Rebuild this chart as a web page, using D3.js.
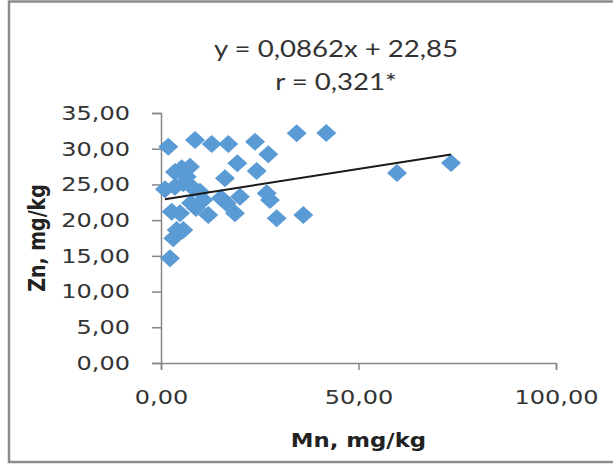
<!DOCTYPE html>
<html>
<head>
<meta charset="utf-8">
<script src="https://cdn.jsdelivr.net/npm/d3@7"></script>
<style>
  html, body { margin: 0; padding: 0; background: #fff; }
  svg { display: block; }
</style>
</head>
<body>
<div id="chart"></div>
<script>
// Mn (x) and Zn (y), mg/kg
const mnValues = [1.85, 8.61, 12.84, 17.04, 23.80, 34.35, 41.85, 27.16, 19.32, 24.23,
    59.75, 73.42, 5.24, 7.34, 6.51, 16.20, 1.01, 3.54, 5.65, 8.18,
    9.87, 20.00, 26.76, 27.59, 16.63, 10.71, 11.97, 18.73, 29.29, 36.03,
    2.71, 4.81, 3.97, 5.65, 3.11, 2.28, 3.54, 7.60, 8.86, 15.19];
const znValues = [30.28, 31.22, 30.66, 30.66, 30.98, 32.16, 32.20, 29.22, 27.96, 26.88,
    26.60, 28.00, 27.26, 27.48, 26.08, 25.86, 24.32, 24.68, 25.16, 24.46,
    23.98, 23.28, 23.76, 22.82, 22.36, 22.82, 20.72, 20.96, 20.26, 20.72,
    21.18, 20.96, 18.62, 18.62, 17.46, 14.66, 26.74, 22.40, 21.70, 23.10];

// trend line y = 0,0862x + 22,85
const slope = 0.0862;
const intercept = 22.85;
const titleLines = ["y = 0,0862x + 22,85", "r = 0,321*"];

const xTicks = [0, 50, 100];
const yTicks = [0, 5, 10, 15, 20, 25, 30, 35];
const xLabel = "Mn, mg/kg";
const yLabel = "Zn, mg/kg";

const W = 613, H = 468;
const SX = 1.2; // the picture is stretched sideways
const fmt = d => d3.format(".2f")(d).replace(".", ",");

const svg = d3.select("#chart").append("svg")
    .attr("width", W)
    .attr("height", H);

// chart frame (right edge runs off the picture)
svg.append("rect")
    .attr("x", 9).attr("y", 1.5)
    .attr("width", W + 10).attr("height", 460.5)
    .attr("fill", "#fff")
    .attr("stroke", "#8c8c8c")
    .attr("stroke-width", 2.5);

const x = d3.scaleLinear().domain([0, 100]).range([161, 556]);
const y = d3.scaleLinear().domain([0, 35]).range([363, 113]);

function stretchText(g) {
    g.selectAll("text").each(function () {
        const t = d3.select(this);
        t.attr("x", (+t.attr("x") || 0) / SX)
            .attr("transform", `scale(${SX},1)`);
    });
}

const axisColor = "#868686";

const yAxis = svg.append("g")
    .attr("transform", `translate(${x(0)},0)`)
    .call(d3.axisLeft(y).tickValues(yTicks).tickFormat(fmt)
        .tickSize(9).tickPadding(22));

const xAxis = svg.append("g")
    .attr("transform", `translate(0,${y(0)})`)
    .call(d3.axisBottom(x).tickValues(xTicks).tickFormat(fmt)
        .tickSize(7).tickPadding(20));

[xAxis, yAxis].forEach(g => {
    g.select(".domain").attr("stroke", axisColor).attr("stroke-width", 1.5);
    g.selectAll(".tick line").attr("stroke", axisColor).attr("stroke-width", 1.5);
    g.selectAll("text")
        .attr("fill", "#333")
        .style("font-family", "'DejaVu Sans', Verdana, sans-serif")
        .style("font-size", "20px");
    stretchText(g);
});

// points
const pts = mnValues.map((d, i) => ({ mn: d, zn: znValues[i] }));
const diamond = d3.symbol().type(d3.symbolSquare).size(165);

svg.append("g")
    .selectAll("path")
    .data(pts)
    .join("path")
    .attr("d", diamond)
    .attr("transform", d => `translate(${x(d.mn)},${y(d.zn)}) scale(1.1,1) rotate(45)`)
    .attr("fill", "#5b9bd5");

// trend line
const xExt = d3.extent(mnValues);
svg.append("line")
    .attr("x1", x(xExt[0])).attr("y1", y(slope * xExt[0] + intercept))
    .attr("x2", x(xExt[1])).attr("y2", y(slope * xExt[1] + intercept))
    .attr("stroke", "#1a1a1a")
    .attr("stroke-width", 2);

// equation text
svg.append("g")
    .attr("transform", `translate(336,0) scale(${SX},1)`)
    .selectAll("text")
    .data(titleLines)
    .join("text")
    .attr("y", (d, i) => 57 + i * 33)
    .attr("text-anchor", "middle")
    .style("font-family", "Lato, 'Open Sans', sans-serif")
    .style("font-size", "23px")
    .attr("fill", "#333")
    .text(d => d);

// axis titles
svg.append("text")
    .attr("transform", `translate(${(x(0) + x(100)) / 2},447) scale(${SX},1)`)
    .attr("text-anchor", "middle")
    .style("font-family", "'DejaVu Sans', Verdana, sans-serif")
    .style("font-size", "19px")
    .style("font-weight", "bold")
    .attr("fill", "#222")
    .text(xLabel);

svg.append("text")
    .attr("transform", `translate(45,${(y(0) + y(35)) / 2}) rotate(-90) scale(1,${SX})`)
    .attr("text-anchor", "middle")
    .style("font-family", "'DejaVu Sans', Verdana, sans-serif")
    .style("font-size", "19px")
    .style("font-weight", "bold")
    .attr("fill", "#222")
    .text(yLabel);
</script>
</body>
</html>
